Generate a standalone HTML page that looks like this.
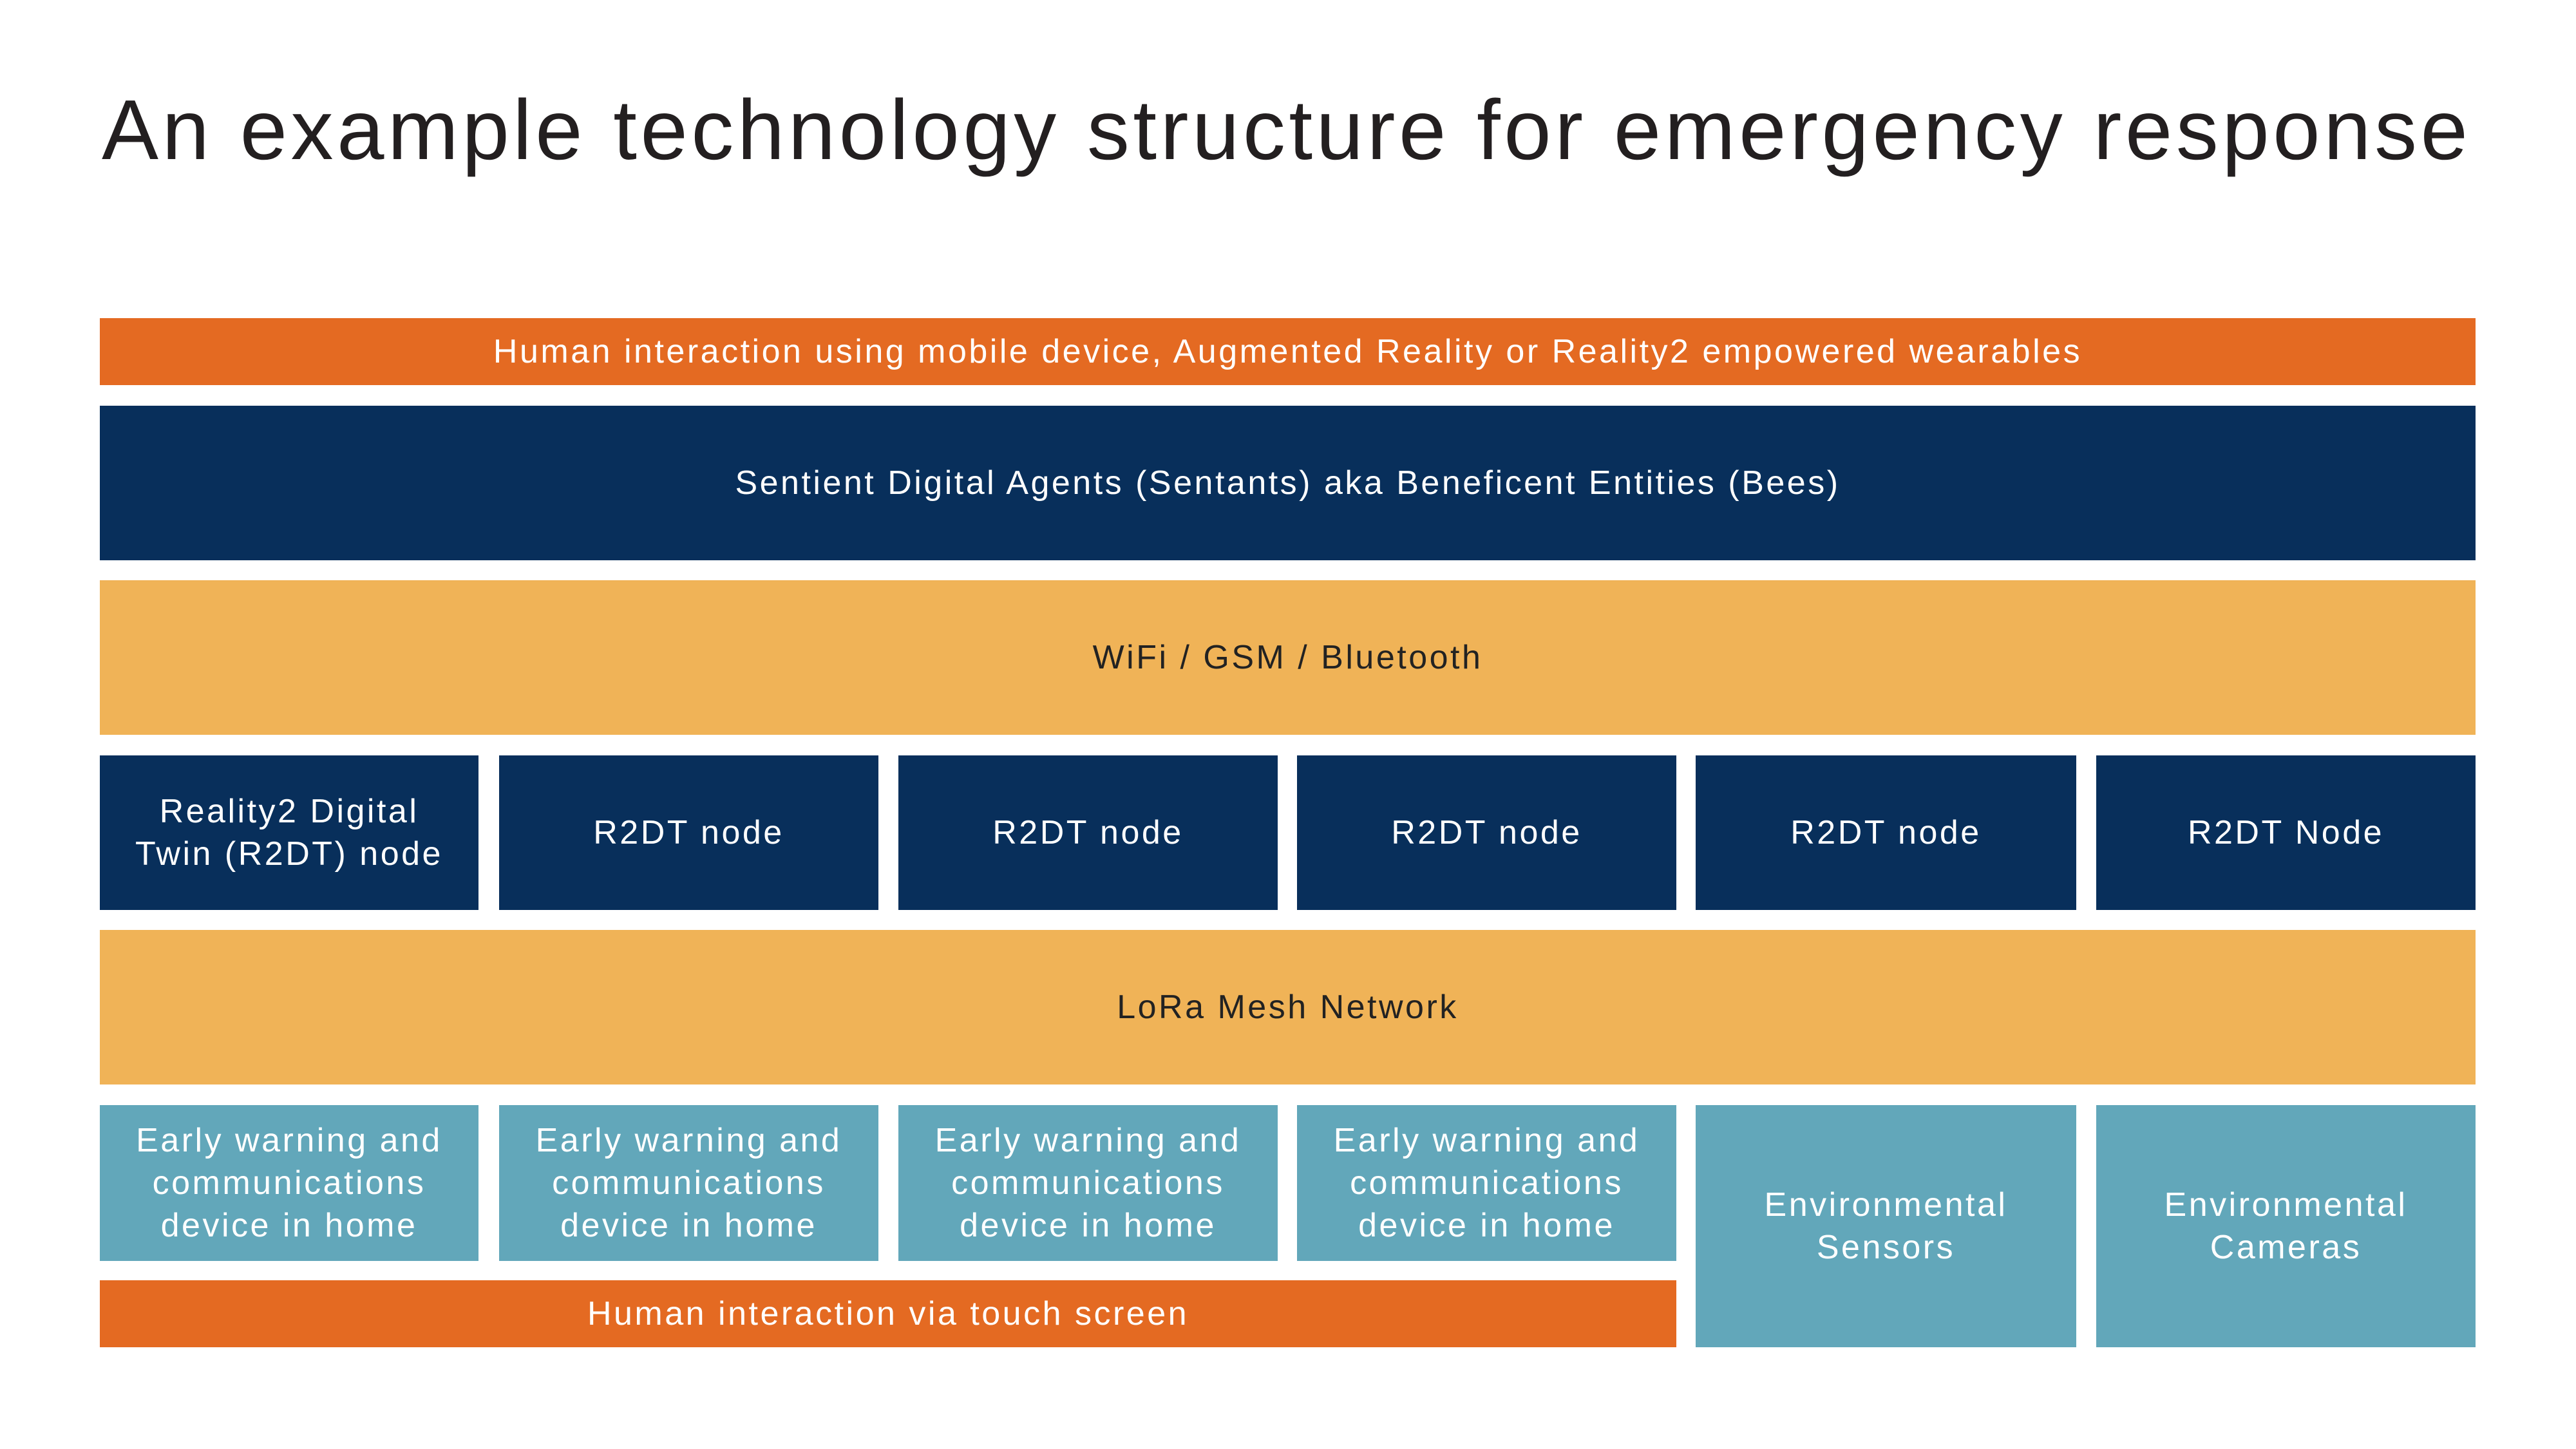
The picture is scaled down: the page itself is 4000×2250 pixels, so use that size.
<!DOCTYPE html>
<html><head><meta charset="utf-8"><style>
body{margin:0;width:4000px;height:2250px;background:#fff;position:relative;overflow:hidden;font-family:"Liberation Sans",sans-serif}
.t{position:absolute;left:158px;top:126px;font-size:132px;color:#231f20;white-space:nowrap;letter-spacing:5.5px}
.b{position:absolute;display:flex;align-items:center;justify-content:center;text-align:center;font-size:52px;line-height:66px;color:#fff;letter-spacing:3.5px}
.o{background:#E46A22}.n{background:#082F5B}.y{background:#F0B357;color:#222}.c{background:#62A7BA}
</style></head><body>
<div class="t">An example technology structure for emergency response</div>
<div class="b o" style="left:155px;top:494px;width:3689px;height:104px">Human interaction using mobile device, Augmented Reality or Reality2 empowered wearables</div>
<div class="b n" style="left:155px;top:630px;width:3689px;height:240px">Sentient Digital Agents (Sentants) aka Beneficent Entities (Bees)</div>
<div class="b y" style="left:155px;top:901px;width:3689px;height:240px">WiFi / GSM / Bluetooth</div>
<div class="b n" style="left:155px;top:1173px;width:588px;height:240px">Reality2 Digital<br>Twin (R2DT) node</div>
<div class="b n" style="left:775px;top:1173px;width:589px;height:240px">R2DT node</div>
<div class="b n" style="left:1395px;top:1173px;width:589px;height:240px">R2DT node</div>
<div class="b n" style="left:2014px;top:1173px;width:589px;height:240px">R2DT node</div>
<div class="b n" style="left:2633px;top:1173px;width:591px;height:240px">R2DT node</div>
<div class="b n" style="left:3255px;top:1173px;width:589px;height:240px">R2DT Node</div>
<div class="b y" style="left:155px;top:1444px;width:3689px;height:240px">LoRa Mesh Network</div>
<div class="b c" style="left:155px;top:1716px;width:588px;height:242px">Early warning and<br>communications<br>device in home</div>
<div class="b c" style="left:775px;top:1716px;width:589px;height:242px">Early warning and<br>communications<br>device in home</div>
<div class="b c" style="left:1395px;top:1716px;width:589px;height:242px">Early warning and<br>communications<br>device in home</div>
<div class="b c" style="left:2014px;top:1716px;width:589px;height:242px">Early warning and<br>communications<br>device in home</div>
<div class="b c" style="left:2633px;top:1716px;width:591px;height:376px">Environmental<br>Sensors</div>
<div class="b c" style="left:3255px;top:1716px;width:589px;height:376px">Environmental<br>Cameras</div>
<div class="b o" style="left:155px;top:1988px;width:2448px;height:104px">Human interaction via touch screen</div>
</body></html>
